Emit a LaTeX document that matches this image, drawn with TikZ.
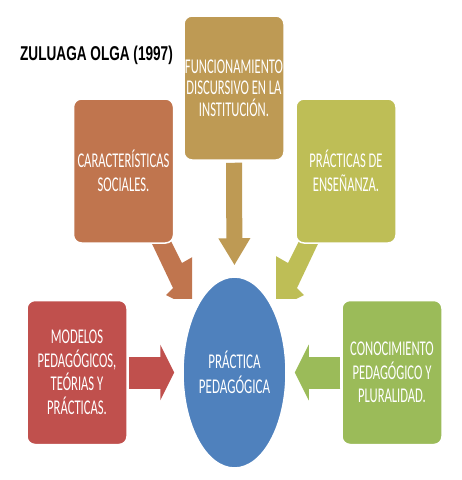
\documentclass[tikz,border=0pt]{standalone}
\usepackage{fontspec}
\newfontfamily\boxfont[FakeStretch=0.6]{Carlito}
\newfontfamily\ovalfont[FakeStretch=0.62]{Carlito}
\newfontfamily\titlefont[FakeStretch=0.68]{Liberation Sans}
\usetikzlibrary{shapes.geometric, arrows.meta}
\definecolor{gold}{HTML}{BE9A54}
\definecolor{rust}{HTML}{C0754E}
\definecolor{olive}{HTML}{BEBE56}
\definecolor{brick}{HTML}{C0504D}
\definecolor{leaf}{HTML}{9BBB59}
\definecolor{steel}{HTML}{4F81BD}
\tikzstyle{box} = [rectangle, rounded corners=8pt, draw=white, line width=1.5pt, text=white, align=center, minimum width=100pt, minimum height=144pt, inner sep=0pt, font=\boxfont\fontsize{21}{23.5}\selectfont]
\tikzstyle{oval} = [ellipse, draw=white, line width=1.5pt, fill=steel, text=white, align=center, minimum width=103pt, minimum height=191pt, inner sep=0pt, font=\ovalfont\fontsize{21}{25}\selectfont]
\tikzstyle{downarrow} = [line width=16pt, -{Triangle[width=30pt,length=27pt]}]
\tikzstyle{sidearrow} = [line width=32pt, -{Triangle[width=55pt,length=14pt]}]

\begin{document}
\begin{tikzpicture}[x=1pt, y=-1pt, node distance=157.5pt]
  \useasboundingbox [fill=white] (0,0) rectangle (462,480);

  \begin{scope}
    \clip (0,0) rectangle (192,298);
    \fill [rust] (145,229) -- (165,229) -- (182,263) -- (196,255) -- (200,312) -- (166,295) -- (173,288) -- cycle;
  \end{scope}
  \begin{scope}
    \clip (276,0) rectangle (462,298);
    \fill [olive] (325,229) -- (305,229) -- (288,263) -- (274,255) -- (270,312) -- (304,295) -- (297,288) -- cycle;
  \end{scope}

  \node (title) [font=\titlefont\bfseries\fontsize{20}{22}\selectfont] at (96.5,55) {ZULUAGA OLGA (1997)};
  \node (prac) [oval] at (234.5,372.5) {PRÁCTICA\\PEDAGÓGICA};
  \node (fun) [box, fill=gold, font=\boxfont\fontsize{21}{21.5}\selectfont] at (234,88) {FUNCIONAMIENTO\\DISCURSIVO EN LA\\INSTITUCIÓN.};
  \node (soc) [box, fill=rust] at (123.5,171) {CARACTERÍSTICAS\\SOCIALES.};
  \node (ens) [box, fill=olive] at (346,171) {PRÁCTICAS DE\\ENSEÑANZA.};
  \node (mod) [box, fill=brick, left of=prac] {MODELOS\\PEDAGÓGICOS,\\TEÓRIAS Y\\PRÁCTICAS.};
  \node (con) [box, fill=leaf, right of=prac] {CONOCIMIENTO\\PEDAGÓGICO Y\\PLURALIDAD.};

  \draw [downarrow, gold, shorten <=2pt, shorten >=11pt] (fun.south) -- (prac.north);
  \draw [sidearrow, brick, shorten <=1pt, shorten >=8pt] (mod.east) -- (prac.west);
  \draw [sidearrow, leaf, shorten <=1pt, shorten >=8pt] (con.west) -- (prac.east);
\end{tikzpicture}
\end{document}
